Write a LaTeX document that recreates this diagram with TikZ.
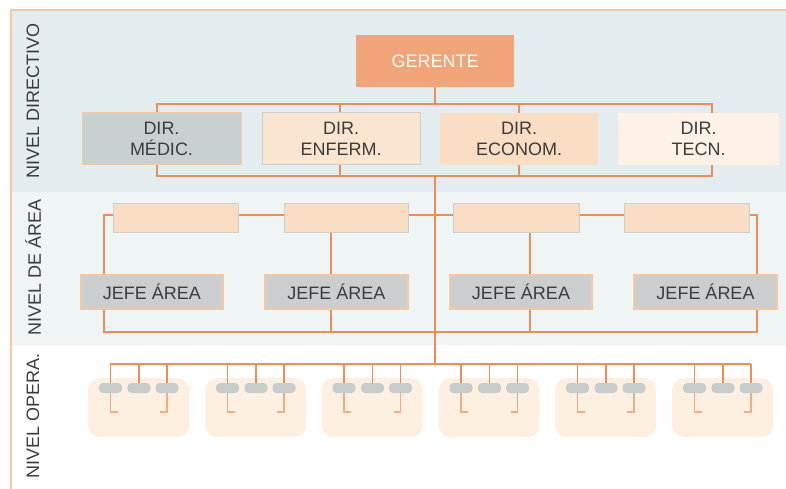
\documentclass[tikz,border=0pt]{standalone}
\usepackage{fontspec}
\setmainfont{Liberation Sans}
\begin{document}
\begin{tikzpicture}[x=1pt,y=-1pt,
  txt/.style={text=textgray,font=\fontsize{18}{21}\selectfont,align=center,inner sep=0pt},
  link/.style={draw=linkorange,line width=1.8pt},
  thinlink/.style={draw=paleorange,line width=1.6pt},
  gerbox/.style={txt,fill=gerfill,text=white,minimum width=158pt,minimum height=52pt},
  dirbox/.style={txt,minimum height=52pt},
  areabox/.style={fill=peach,draw=boxgray,line width=1pt,minimum height=29pt,inner sep=0pt},
  jefebox/.style={txt,fill=jefegray,draw=edgeorange,line width=1.2pt,minimum width=142pt,minimum height=34pt},
  groupbox/.style={fill=groupfill,rounded corners=12pt,minimum width=101pt,minimum height=59pt,inner sep=0pt},
  pill/.style={fill=pillgray,rounded corners=4pt,minimum width=23pt,minimum height=10pt,inner sep=0pt},
  levellabel/.style={txt,rotate=90}
]
\definecolor{textgray}{HTML}{3C3C3C}
\definecolor{linkorange}{HTML}{EE8D55}
\definecolor{paleorange}{HTML}{F4AC7C}
\definecolor{edgeorange}{HTML}{F7C9A2}
\definecolor{gerfill}{HTML}{F0A478}
\definecolor{peach}{HTML}{F9DEC3}
\definecolor{lightpeach}{HTML}{F9E5D0}
\definecolor{palepeach}{HTML}{FDF2E5}
\definecolor{boxgray}{HTML}{C9D0D0}
\definecolor{medgray}{HTML}{C8D0D0}
\definecolor{jefegray}{HTML}{CACECE}
\definecolor{groupfill}{HTML}{FDF0E1}
\definecolor{pillgray}{HTML}{C6CDCD}
\definecolor{bandone}{HTML}{E3EDEF}
\definecolor{bandtwo}{HTML}{EEF5F4}

\useasboundingbox (0,0) rectangle (786,489);
\fill[white] (0,0) rectangle (786,489);

% level bands and frame
\fill[bandone] (12,10) rectangle (786,192);
\fill[bandtwo] (12,192) rectangle (786,345);
\draw[edgeorange,line width=1.5pt] (11,489) -- (11,10) -- (786,10);

\node[levellabel] (lvl1) at (33,101) {NIVEL DIRECTIVO};
\node[levellabel] (lvl2) at (33,267) {NIVEL DE ÁREA};
\node[levellabel] (lvl3) at (33,416) {NIVEL OPERA.};

% directive level
\node[gerbox] (ger) at (435,61) {GERENTE};
\node[dirbox,fill=medgray,draw=edgeorange,line width=1pt,minimum width=159pt] (medic) at (161.5,139) {DIR.\\MÉDIC.};
\node[dirbox,fill=lightpeach,draw=boxgray,line width=1pt,minimum width=158pt] (enferm) at (341,139) {DIR.\\ENFERM.};
\node[dirbox,fill=peach,minimum width=158pt] (econom) at (519,139) {DIR.\\ECONOM.};
\node[dirbox,fill=palepeach,minimum width=161pt] (tecn) at (698.5,139) {DIR.\\TECN.};

\coordinate (topL) at (157,104);
\coordinate (topR) at (712,104);
\coordinate (botL) at (157,176);
\coordinate (botR) at (712,176);
\coordinate (enfX) at (340,0);
\coordinate (ecoX) at (519,0);

\draw[link] (ger.south) -- (ger.south |- topL);
\draw[link] (medic.north -| topL) -- (topL) -- (topR) -- (tecn.north -| topR);
\draw[link] (enferm.north -| enfX) -- (enfX |- topL);
\draw[link] (econom.north -| ecoX) -- (ecoX |- topL);
\draw[link] (medic.south -| botL) -- (botL) -- (botR) -- (tecn.south -| botR);
\draw[link] (enferm.south -| enfX) -- (enfX |- botL);
\draw[link] (econom.south -| ecoX) -- (ecoX |- botL);

% area level
\node[areabox,minimum width=125pt] (a1) at (176,218) {};
\node[areabox,minimum width=124pt] (a2) at (346,218) {};
\node[areabox,minimum width=126pt] (a3) at (516,218) {};
\node[areabox,minimum width=125pt] (a4) at (686.5,218) {};

\node[jefebox] (j1) at (152,292) {JEFE ÁREA};
\node[jefebox,minimum width=143pt] (j2) at (336.5,292) {JEFE ÁREA};
\node[jefebox] (j3) at (521,292) {JEFE ÁREA};
\node[jefebox,minimum width=143pt] (j4) at (705.5,292) {JEFE ÁREA};

\coordinate (arL) at (104,215);
\coordinate (arR) at (757,215);
\coordinate (jbL) at (104,332);
\coordinate (jbR) at (757,332);
\coordinate (a2X) at (331,0);
\coordinate (a3X) at (530,0);
\coordinate (opL) at (110,364);
\coordinate (opR) at (751,364);

\draw[link] (a1.west |- arL) -- (arL) -- (j1.north -| arL);
\draw[link] (a1.east |- arL) -- (a2.west |- arL);
\draw[link] (a2.east |- arL) -- (a3.west |- arL);
\draw[link] (a3.east |- arL) -- (a4.west |- arL);
\draw[link] (a4.east |- arR) -- (arR) -- (j4.north -| arR);
\draw[link] (a2.south -| a2X) -- (j2.north -| a2X);
\draw[link] (a3.south -| a3X) -- (j3.north -| a3X);
\draw[link] (j1.south -| jbL) -- (jbL) -- (jbR) -- (j4.south -| jbR);
\draw[link] (j2.south -| a2X) -- (a2X |- jbL);
\draw[link] (j3.south -| a3X) -- (a3X |- jbL);

% main trunk from directors down to the operational bus
\draw[link] (435,176) -- (435,364);
\draw[link] (opL) -- (opR);

% operational level: six teams of three
\foreach \g/\gx in {1/88, 2/205, 3/321.5, 4/438.5, 5/555, 6/672} {
  \node[groupbox,anchor=north west] (g\g) at (\gx,378) {};
  \node[pill] (p\g a) at (\gx+22.5,388) {};
  \node[pill] (p\g b) at (\gx+51,388) {};
  \node[pill] (p\g c) at (\gx+79,388) {};
  \draw[link,line width=1.5pt] (p\g a.north) -- (p\g a.north |- opL);
  \draw[link,line width=1.5pt] (p\g b.north) -- (p\g b.north |- opL);
  \draw[link,line width=1.5pt] (p\g c.north) -- (p\g c.north |- opL);
  \coordinate (ta\g) at (\gx+22.5,412);
  \coordinate (tc\g) at (\gx+79,412);
  \draw[thinlink] (p\g a.south) -- (ta\g) -- ++(7,0);
  \draw[thinlink] (p\g c.south) -- (tc\g) -- ++(-7,0);
}
\end{tikzpicture}
\end{document}
